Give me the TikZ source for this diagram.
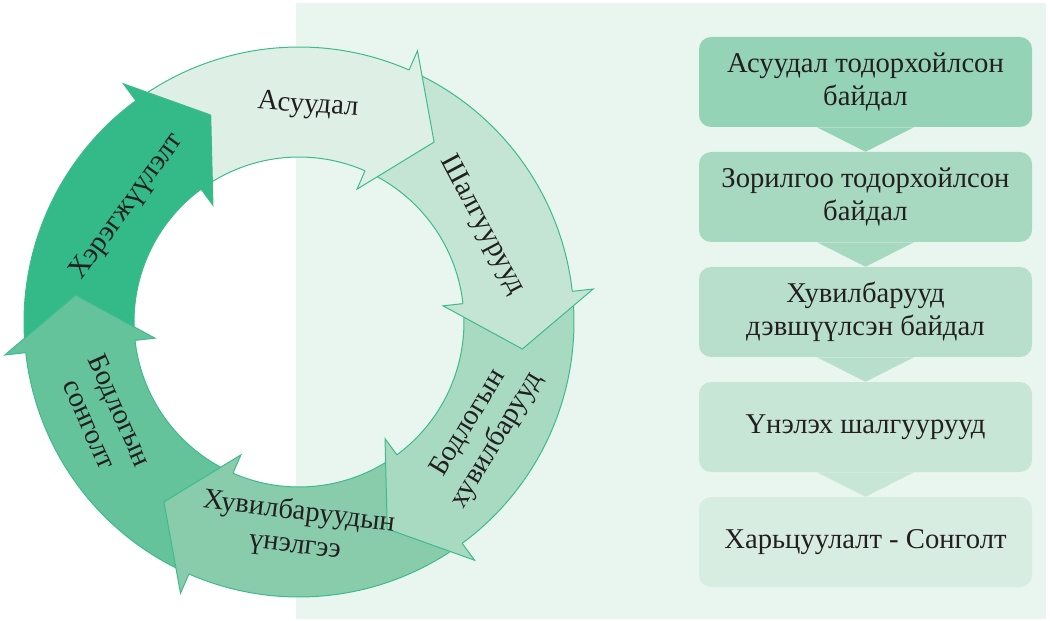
\documentclass[tikz,border=0pt]{standalone}
\usepackage{fontspec}
\setmainfont{Liberation Serif}
\usetikzlibrary{calc}

\definecolor{panel}{HTML}{E9F6EF}
\definecolor{ringline}{HTML}{3DBB8B}
\definecolor{ink}{HTML}{231F20}
\definecolor{arA}{HTML}{DEF0E6}
\definecolor{arB}{HTML}{C4E5D3}
\definecolor{arC}{HTML}{A8D9C1}
\definecolor{arD}{HTML}{89CCAC}
\definecolor{arE}{HTML}{65C39C}
\definecolor{arF}{HTML}{34BA88}
\definecolor{stA}{HTML}{95D3B7}
\definecolor{stB}{HTML}{A7D8C0}
\definecolor{stC}{HTML}{B7DFCB}
\definecolor{stD}{HTML}{C8E6D6}
\definecolor{stE}{HTML}{D8EDE1}

\begin{document}
\begin{tikzpicture}[x=0.75pt,y=0.75pt,
	stage/.style={rectangle, rounded corners=9pt, minimum width=249.75pt, minimum height=67.5pt, align=center, text=ink, font=\fontsize{21.5}{25}\selectfont},
	ringtext/.style={align=center, text=ink, inner sep=0pt, font=\fontsize{21.5}{25}\selectfont}]
		\useasboundingbox (-299,-299) rectangle (751,322);
		\fill[panel] (-3,-297) rectangle (747,319);
		
		% ring: bodies first, then the heads on top
		\foreach \b/\c in {66.4/arA,6.4/arB,-53.6/arC,-113.6/arD,-173.6/arE,126.4/arF}
		\filldraw[fill=\c, draw=ringline, line width=0.75pt] ({\b+59}:275) arc[start angle=\b+59, end angle=\b-1, radius=275] -- ({\b-1}:165) arc[start angle=\b-1, end angle=\b+59, radius=165] -- cycle;
		\foreach \b/\c in {66.4/arA,6.4/arB,-53.6/arC,-113.6/arD,-173.6/arE,126.4/arF}{
			\fill[\c] (\b:145) -- (\b:296) -- ({\b-13.3}:225) -- cycle;
			\draw[ringline, line width=0.75pt] (\b:275) -- (\b:296) -- ({\b-13.3}:225) -- (\b:145) -- (\b:165);
		}
		
		\node[ringtext, rotate=-4] (asuudal) at (9,216) {Асуудал};
		\node[ringtext, rotate=-62] (shalguur) at (183,97) {Шалгуурууд};
		\node[ringtext, rotate=59] (huvilbar) at (184,-110) {Бодлогын\\хувилбарууд};
		\node[ringtext, rotate=-7] (unelgee) at (-2,-207) {Хувилбаруудын\\үнэлгээ};
		\node[ringtext, rotate=-66] (songolt) at (-194,-95) {Бодлогын\\сонголт};
		\node[ringtext, rotate=54] (heregjuulelt) at (-172,115) {Хэрэгжүүлэлт};
		
		\node[stage, fill=stA] (st1) at (566.5,240) {Асуудал тодорхойлсон\\байдал};
		\node[stage, fill=stB] (st2) at (566.5,125) {Зорилгоо тодорхойлсон\\байдал};
		\node[stage, fill=stC] (st3) at (566.5,10) {Хувилбарууд\\дэвшүүлсэн байдал};
		\node[stage, fill=stD] (st4) at (566.5,-105) {Үнэлэх шалгуурууд};
		\node[stage, fill=stE] (st5) at (566.5,-220) {Харьцуулалт - Сонголт};
		
		% chevrons between the stages
		\foreach \i/\j/\c in {st1/st2/stA,st2/st3/stB,st3/st4/stC,st4/st5/stD}
		\fill[\c] ($(\i.south)+(-48.5,0)$) -- ($(\i.south)+(48.5,0)$) -- (\j.north) -- cycle;
		
	\end{tikzpicture}
\end{document}
